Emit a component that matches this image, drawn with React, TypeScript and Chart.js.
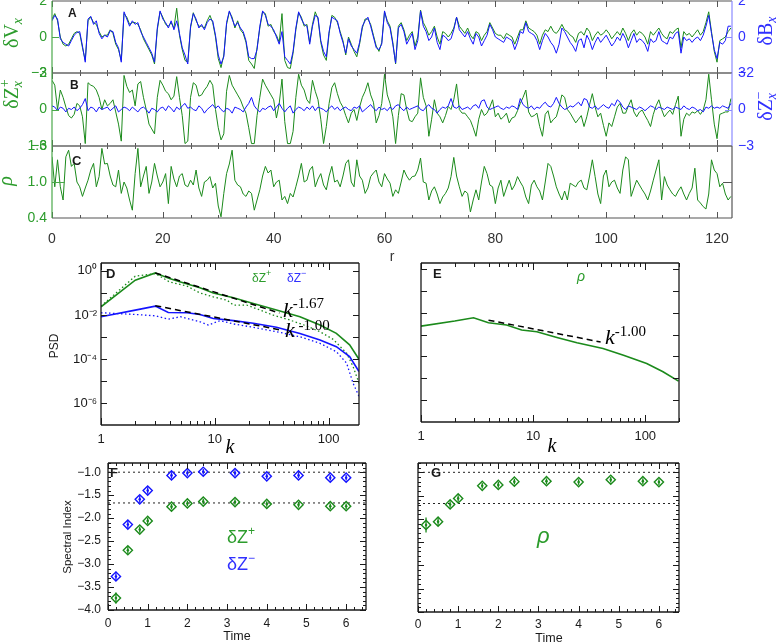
import React, { useEffect, useRef } from 'react';
import { Chart, registerables } from 'chart.js';

Chart.register(...registerables);

const PAGE_W = 778;
const PAGE_H = 642;
const SANS = '"Liberation Sans", Arial, Helvetica, sans-serif';
const SERIF = '"Liberation Serif", "Times New Roman", serif';

const GREEN = '#1b8a1b';
const GREEN_TXT = '#2c9c2c';
const GREEN_AXIS = '#4aa84a';
const BLUE = '#1414ff';
const BLUE_TXT = '#3030ff';
const BLUE_AXIS = '#8a8aff';
const INK = '#1a1a1a';

// ---------------- Panels A–C : profiles along r (step 0.5) ----------------
const R_STEP = 0.5;
const R_MAX = 122.7;
const xTicksTop = [0, 20, 40, 60, 80, 100, 120];

// Panel A, green: delta V_x
const dVx = [
  1.0, 1.3, 0.9, 0.0, -0.4, -0.5, -0.4, -0.1, 0.2, 0.3,
  0.2, -0.6, -1.3, 0.9, 1.1, 0.8, 0.7, 0.3, 0.0, 0.1,
  0.1, 0.4, 0.2, -0.4, -0.7, -1.3, 1.3, 1.1, 0.7, 0.8,
  0.8, 0.7, 0.4, -0.1, -0.4, -0.7, -1.0, -1.5, 0.4, 1.4,
  1.1, 0.7, 0.6, 0.8, 0.5, 1.6, 0.1, -0.7, -1.3, -1.4,
  0.5, 1.35, 0.9, 0.6, 0.6, 0.5, 0.9, 1.2, 0.8, 0.0,
  -1.2, -1.7, -1.0, 0.7, 1.4, 1.1, 0.5, 0.9, 0.4, 0.2,
  -0.3, -1.3, -1.5, -1.75, -0.6, 0.5, 1.4, 1.3, 0.6, 0.7,
  0.3, 0.1, -0.3, 1.3, -1.3, -1.7, -1.75, -0.9, 0.4, 1.35,
  1.1, 0.6, 0.7, -0.3, 0.7, 1.4, 1.0, -0.3, -1.0, -1.3,
  0.2, 1.2, 1.1, 0.8, 0.3, -0.2, -1.0, 0.0, -0.4, -0.8,
  -1.1, -0.4, 0.5, 1.0, 1.0, 0.7, 0.1, -0.5, -0.8, -0.3,
  1.4, 0.9, 0.6, -0.3, -1.5, 0.6, 0.8, 0.4, -0.2, 0.1,
  0.3, -0.5, 0.0, 1.5, 0.8, 0.5, 0.1, 0.3, 0.6, 0.0,
  -0.4, 0.3, 0.2, 0.0, 0.2, 0.5, 1.1, 0.6, 0.4, 0.2,
  0.5, 0.1, -0.1, 0.3, 0.2, -0.2, 0.1, 0.3, 0.8, 0.5,
  0.2, 0.1, 0.1, -0.1, 0.2, 0.1, 0.0, -0.4, 0.0, 0.4,
  0.4, 0.9, 0.5, 0.4, 0.3, 0.1, -0.4, 0.1, 0.4, 0.3,
  0.6, 0.3, 0.2, 0.4, 0.7, 0.4, 0.3, 0.1, 0.0, -0.3,
  0.2, 0.3, 0.1, 0.5, 0.3, -0.2, 0.1, 0.3, 0.1, 0.2,
  0.4, 0.2, -0.1, 0.1, 0.3, 0.1, 0.5, 0.2, -0.2, 0.2,
  0.4, 0.1, 0.3, 0.2, 0.0, -0.4, 0.3, 0.1, 0.3, 0.5,
  0.2, 0.0, -0.1, 0.3, 0.2, 0.4, 0.5, -0.6, 0.3, 0.1,
  0.2, 0.0, 0.2, 0.4, 0.1, 0.3, 0.8, 1.4, 0.3, -0.8,
  -1.4, -0.2, -0.1, 0.0, 0.3, 0.5,
];

// Panel A, blue: delta B_x
const dBx = [
  0.9, 1.2, 1.0, -0.1, -0.3, -0.4, -0.5, -0.2, 0.1, 0.25,
  0.3, -0.5, -1.4, 1.0, 1.15, 0.7, 0.9, 0.2, -0.1, 0.1,
  0.0, 0.35, 0.3, -0.3, -0.6, -1.4, 1.4, 1.0, 0.6, 0.9,
  0.7, 0.8, 0.3, 0.0, -0.3, -0.6, -0.9, -1.4, 0.5, 1.45,
  1.0, 0.8, 0.5, 0.9, 0.4, 0.9, 0.2, -0.6, -1.0, -1.5,
  0.6, 1.3, 1.0, 0.5, 0.7, 0.4, 0.8, 1.0, 0.9, 0.1,
  -1.0, -1.5, -1.1, 0.8, 1.45, 1.0, 0.6, 0.8, 0.5, 0.3,
  -0.2, -1.1, -1.2, -1.2, -0.7, 0.6, 1.45, 1.2, 0.7, 0.6,
  0.4, 0.0, -0.4, 0.3, -1.1, -1.3, -1.5, -0.8, 0.5, 1.4,
  1.0, 0.7, 0.6, -0.4, 0.6, 1.2, 1.1, -0.2, -0.8, -1.1,
  0.3, 1.1, 1.0, 0.9, 0.2, -0.3, -0.9, -0.1, -0.5, -0.7,
  -0.9, -0.3, 0.6, 0.9, 1.1, 0.6, 0.0, -0.6, -0.7, -0.4,
  1.45, 0.8, 0.5, -0.4, -1.45, 0.5, 0.7, 0.3, -0.4, -0.1,
  0.2, -0.7, -0.2, 1.45, 0.6, 0.3, -0.2, 0.0, 0.5, -0.3,
  -0.7, 0.1, 0.0, -0.2, -0.1, 0.4, 1.1, 0.4, 0.2, 0.0,
  0.3, -0.1, -0.4, 0.2, 0.0, -0.5, -0.2, 0.1, 0.7, 0.4,
  0.0, -0.1, -0.2, -0.3, 0.0, -0.1, -0.2, -0.7, -0.3, 0.3,
  0.2, 0.8, 0.3, 0.2, 0.1, -0.2, -0.7, -0.2, 0.2, 0.0,
  -0.3, -0.5, -0.9, -0.4, 0.5, 0.3, 0.0, -0.3, -0.5, -0.8,
  -0.2, -0.1, -0.6, 0.1, -0.2, -0.7, -0.3, 0.0, -0.3, -0.1,
  0.1, -0.2, -0.5, -0.3, 0.0, -0.2, 0.2, -0.1, -0.6, -0.2,
  0.2, -0.3, -0.1, -0.2, -0.4, -0.8, -0.1, -0.3, -0.2, 0.3,
  -0.2, -0.3, -0.4, 0.0, -0.1, 0.2, 0.3, -0.9, 0.0, -0.2,
  -0.1, -0.3, -0.1, 0.0, -0.2, 0.1, 0.6, 1.2, 0.2, -0.7,
  -1.2, -0.3, -0.4, -0.2, 0.6, 0.6,
];

// Panel B, green: delta Z_x^+
const dZp = [
  2.4, 2.0, 0.0, 1.6, 1.0, 0.2, -0.5, -0.7, -0.4, 0.5,
  0.3, -0.6, -2.8, 2.2, 2.0, 1.9, 1.6, 1.0, 0.0, 0.8,
  0.3, 0.5, 0.8, -0.2, -1.2, -2.6, 2.8, 1.9, 1.4, 1.6,
  0.3, 2.1, 2.3, 1.0, 0.0, -1.2, -1.6, -2.0, 1.0, 2.4,
  2.0, 1.5, 1.3, 0.8, 1.1, 2.7, 1.0, -0.5, -2.8, -2.6,
  1.0, 2.2, 2.0, 1.1, 1.2, 1.6, 1.9, 2.4, 2.0, 0.0,
  -1.5, -2.5, -2.0, 1.5, 2.8, 2.0, 1.6, 1.2, 0.8, 0.2,
  -0.3, -1.5, -2.8, -2.8, -0.5, 1.0, 2.5, 2.0, 1.6, 1.2,
  0.8, -0.7, 0.5, 2.5, -1.0, -2.8, -2.8, -1.8, 1.0, 2.9,
  2.0, 1.6, 0.8, 0.5, 2.4, 1.5, 0.8, -0.8, -2.8, -1.4,
  0.5, 1.8, 2.2, 1.3, 0.6, 0.2, -0.5, -1.1, -0.3, 0.0,
  -0.9, 0.2, 1.0, 1.5, 2.2, 1.2, 0.6, -1.1, -0.5, 0.5,
  2.9, 1.2, 0.5, -0.6, -2.8, -0.5, 1.3, 1.2, 0.0, -0.9,
  -1.0, -0.6, -0.3, 2.6, 1.0, 0.3, -2.2, -0.8, 0.8, -0.3,
  -0.6, -1.1, -0.5, 0.25, 0.0, 0.8, 2.1, 0.0, -0.3, -0.3,
  -0.6, -0.9, -1.5, -2.2, -0.8, 0.0, -0.5, -0.3, 0.2, 0.8,
  -0.6, -0.3, -0.8, -0.6, -0.3, -1.1, -0.7, -0.6, -0.1, 0.5,
  1.0, 1.6, -0.2, -0.6, -0.5, -0.3, -1.4, -2.2, -0.4, -0.1,
  -1.1, -0.8, -0.6, 0.2, 1.2, 1.0, 0.0, -0.3, -0.7, -1.1,
  -0.8, -0.5, -1.4, -0.6, 0.4, 1.3, 0.2, -0.6, -0.3, -1.3,
  -2.2, -1.1, -1.4, -0.6, 0.2, 0.5, -0.3, -0.3, 0.3, 0.8,
  -0.2, -0.6, -0.2, -0.05, -0.5, -0.9, -1.4, -0.4, 0.3, 0.8,
  0.0, -0.6, -0.3, -0.05, -0.4, 0.4, 1.1, -2.2, -0.8, -0.3,
  -0.5, -0.2, -0.3, -0.1, -0.4, -0.05, 0.8, 2.9, 0.8, -1.2,
  -2.4, -0.4, -0.3, -0.2, -0.2, 0.9,
];

// Panel B, blue: delta Z_x^-
const dZm = [
  0.3, 0.2, -0.1, 0.2, 0.1, -0.2, 0.1, 0.0, 0.2, -0.1,
  0.1, 0.4, 0.9, -0.1, 0.2, 0.1, -0.2, 0.2, 0.0, 0.1,
  0.2, -0.1, 0.1, 0.3, -0.2, 0.0, 0.2, 0.1, -0.1, 0.2,
  0.0, -0.2, 0.1, 0.2, 0.0, -0.3, 0.1, 0.0, -0.2, 0.1,
  0.2, -0.1, 0.3, 0.1, -0.2, 0.2, 0.0, 0.3, 0.5, 0.1,
  0.2, 0.0, -0.1, 0.3, 0.1, -0.3, 0.0, 0.2, 0.4, 0.1,
  0.3, 0.0, -0.2, 0.1, 0.0, -0.3, 0.2, 0.1, 0.0, -0.2,
  0.2, 0.5, 1.0, 0.3, 0.0, -0.2, 0.1, 0.0, 0.2, 0.3,
  -0.1, 0.2, 0.5, 0.1, -0.2, 0.1, 0.3, -0.3, 0.0, 0.2,
  0.1, -0.1, 0.2, 0.0, 0.3, -0.1, 0.2, 0.1, 0.0, -0.2,
  0.1, 0.3, 0.0, 0.2, -0.1, 0.1, 0.2, 0.0, -0.1, 0.2,
  0.1, 0.3, -0.2, 0.0, 0.2, 0.4, 0.1, -0.1, 0.2, 0.0,
  0.1, -0.1, 0.2, 0.0, 0.3, 0.4, 0.1, -0.1, 0.2, 0.0,
  0.1, 0.2, 0.3, 0.0, -0.1, 0.2, 0.4, 0.1, 0.0, -0.3,
  0.0, 0.2, 0.1, 0.3, 0.9, 0.2, 0.1, 0.3, 0.0, 0.1,
  0.2, 0.0, 0.3, 0.4, 0.1, 0.7, 0.8, 0.2, 0.0, 0.1,
  0.2, 0.3, 0.1, 0.0, 0.2, 0.1, 0.3, 0.2, 0.0, 0.9,
  0.4, 0.2, 0.1, 0.3, 0.0, 0.2, 0.1, 0.4, 0.6, 0.3,
  0.2, 0.5, 1.0, 0.5, 0.2, 0.0, 0.1, 0.3, 0.2, 0.4,
  0.6, 0.3, 0.9, 0.8, 0.2, 0.1, 0.3, 0.0, 0.2, 0.4,
  0.2, 0.1, 0.5, 0.3, 0.8, 0.6, 0.2, 0.0, 0.3, 0.2,
  0.1, 0.0, 0.2, 0.1, -0.1, 0.1, 0.3, 0.2, 0.0, 0.2,
  0.1, 0.0, 0.2, 0.1, 0.0, 0.2, 0.1, 0.0, 0.3, 0.1,
  0.0, 0.2, 0.1, -0.1, 0.0, -0.2, 0.2, 0.1, 0.3, 0.1,
  0.2, 0.1, 0.3, 0.2, 0.1, 0.5,
];

// Panel C, green: rho
const rho = [
  1.42, 0.92, 1.37, 0.92, 0.7, 1.42, 1.53, 1.26, 1.31, 1.0,
  0.92, 0.76, 0.9, 1.03, 1.2, 1.31, 0.92, 1.09, 1.56, 1.3,
  1.31, 1.1, 0.95, 0.92, 1.2, 0.81, 1.0, 0.9, 0.7, 0.53,
  1.14, 1.56, 0.92, 1.1, 1.26, 0.81, 1.0, 1.31, 1.1, 0.92,
  1.0, 1.14, 0.64, 1.26, 1.05, 0.92, 1.1, 1.14, 0.95, 0.92,
  1.03, 0.95, 1.2, 0.9, 0.76, 1.0, 1.03, 1.09, 0.9, 0.98,
  0.6, 0.42, 0.81, 1.14, 1.3, 1.53, 1.03, 0.95, 0.92, 0.8,
  0.76, 0.85, 0.81, 0.53, 0.7, 0.87, 1.1, 1.26, 1.15, 1.2,
  0.92, 1.0, 1.03, 0.7, 0.76, 0.64, 0.81, 0.75, 0.92, 1.1,
  1.31, 1.0, 1.03, 1.2, 1.26, 0.92, 1.05, 1.14, 0.95, 0.87,
  1.1, 1.26, 1.0, 1.03, 0.92, 1.1, 1.31, 1.37, 1.0, 0.92,
  1.37, 1.1, 1.03, 0.81, 0.9, 1.09, 1.15, 1.2, 1.0, 0.92,
  1.14, 1.05, 0.98, 0.76, 0.87, 0.81, 1.0, 1.2, 1.1, 1.03,
  1.09, 1.1, 1.2, 1.4, 1.0, 0.98, 0.7, 0.85, 0.92, 0.8,
  0.64, 0.75, 0.81, 0.9, 1.09, 1.41, 1.1, 0.92, 0.76, 0.85,
  0.81, 0.5, 0.7, 0.87, 0.7, 1.0, 1.26, 1.14, 0.95, 0.92,
  0.64, 0.9, 1.03, 0.76, 0.9, 1.03, 0.87, 0.95, 1.09, 1.0,
  0.92, 0.75, 0.64, 0.95, 1.03, 0.92, 0.85, 0.7, 1.0, 1.31,
  1.26, 1.1, 0.92, 0.8, 0.7, 0.85, 0.7, 0.98, 0.95, 0.92,
  1.0, 1.03, 0.9, 0.87, 1.1, 1.37, 1.09, 0.8, 0.64, 1.1,
  1.2, 0.92, 1.0, 1.03, 0.9, 0.81, 1.2, 1.42, 1.37, 0.76,
  0.9, 1.03, 0.95, 0.87, 0.8, 0.7, 0.85, 1.03, 1.2, 1.37,
  0.7, 1.09, 0.95, 0.87, 0.8, 0.76, 0.85, 0.92, 0.8, 0.7,
  0.81, 0.9, 1.23, 0.7, 0.65, 0.59, 0.55, 0.8, 1.37, 1.2,
  1.14, 0.92, 0.98, 0.8, 0.7, 0.76,
];

// ---------------- Panel D : PSD of delta Z+ / delta Z- ----------------
const kZpSolid = [1, 2, 3, 4, 5, 7.4, 9.7, 14.6, 21.8, 34.8, 56, 84, 117, 153, 185];
const psdZpSolid = [2.34e-2, 0.38, 0.813, 0.447, 0.316, 0.17, 0.1, 6.03e-2, 3.31e-2, 1.66e-2, 8.32e-3, 3.47e-3, 1.45e-3, 4.37e-4, 9.77e-5];
const kZpDot = [1, 2, 3, 4, 5.7, 7.4, 9.7, 12.8, 14.6, 19.1, 25, 32.7, 45.6, 64, 84, 110, 144, 164, 185];
const psdZpDot = [2.51e-2, 0.575, 0.759, 0.316, 0.204, 0.1, 6.61e-2, 4.68e-2, 2.82e-2, 2.82e-2, 1.66e-2, 9.77e-3, 5.89e-3, 3.16e-3, 1.74e-3, 7.76e-4, 1.82e-4, 4.57e-5, 7.9e-6];
const kZmSolid = [1, 2, 3, 3.9, 5.7, 7.4, 9.7, 14.6, 21.8, 34.8, 56, 84, 117, 153, 185];
const psdZmSolid = [8.32e-3, 1.66e-2, 2.51e-2, 1.29e-2, 1.26e-2, 1.05e-2, 6.92e-3, 5.5e-3, 4.17e-3, 2.75e-3, 1.45e-3, 7.24e-4, 3.63e-4, 1.29e-4, 2.69e-5];
const kZmDot = [1, 2, 3, 3.9, 5, 7.4, 8.8, 11.1, 14.6, 21.8, 34.8, 56, 84, 117, 144, 164, 185];
const psdZmDot = [1.26e-2, 1.05e-2, 9.12e-3, 6.46e-3, 8.32e-3, 4.9e-3, 3.47e-3, 5.5e-3, 3.89e-3, 2.75e-3, 1.74e-3, 1.02e-3, 5.13e-4, 2.14e-4, 6.46e-5, 7.94e-6, 2.0e-6];
const fitZpK = [3, 37];
const fitZpPsd = [0.81, 0.0122];
const fitZmK = [3, 38.6];
const fitZmPsd = [0.0263, 2.04e-3];

// ---------------- Panel E : PSD of rho ----------------
const kRho = [1, 2, 2.94, 4, 5.8, 7.9, 10.8, 16.3, 24.6, 42, 64, 103, 144, 198];
const psdRho = [2.45e-3, 4.17e-3, 5.89e-3, 3.47e-3, 2.75e-3, 1.62e-3, 1.35e-3, 7.41e-4, 4.27e-4, 2.34e-4, 1.15e-4, 4.79e-5, 2.0e-5, 7.41e-6];
const fitRhoK = [4, 40];
const fitRhoPsd = [4.6e-3, 4.6e-4];

const psdTicksY = [1, 1e-2, 1e-4, 1e-6];
const psdTicksX = [1, 10, 100];

// ---------------- Panels F, G : spectral index vs time ----------------
const timeT = [0.2, 0.5, 0.8, 1.0, 1.6, 2.0, 2.4, 3.2, 4.0, 4.8, 5.6, 6.0];
const idxZm = [-3.27, -2.14, -1.59, -1.4, -1.07, -1.02, -0.99, -1.02, -1.09, -1.07, -1.12, -1.12];
const errZm = [0.1, 0.08, 0.07, 0.07, 0.07, 0.06, 0.06, 0.06, 0.06, 0.06, 0.06, 0.06];
const idxZp = [-3.74, -2.7, -2.25, -2.06, -1.75, -1.68, -1.64, -1.65, -1.69, -1.71, -1.74, -1.74];
const errZp = [0.12, 0.08, 0.07, 0.07, 0.06, 0.06, 0.06, 0.06, 0.06, 0.06, 0.06, 0.06];
const idxRho = [-2.13, -2.06, -1.69, -1.56, -1.29, -1.27, -1.2, -1.19, -1.21, -1.16, -1.19, -1.21];
const errRho = [0.16, 0.08, 0.07, 0.07, 0.06, 0.06, 0.06, 0.06, 0.06, 0.06, 0.06, 0.06];
const refSlopes = [-1.0, -1.67];
const timeTicks = [0, 1, 2, 3, 4, 5, 6];
const indexTicks = [-4.0, -3.5, -3.0, -2.5, -2.0, -1.5, -1.0];

// ---------------- helpers ----------------
type Area = { l: number; t: number; r: number; b: number };
const AREA_A: Area = { l: 52, t: 1, r: 732, b: 73 };
const AREA_B: Area = { l: 52, t: 73, r: 732, b: 146 };
const AREA_C: Area = { l: 52, t: 146, r: 732, b: 218 };
const AREA_D: Area = { l: 101, t: 263, r: 359, b: 425 };
const AREA_E: Area = { l: 421, t: 263, r: 679, b: 422 };
const AREA_F: Area = { l: 108, t: 463, r: 366, b: 610 };
const AREA_G: Area = { l: 418, t: 463, r: 679, b: 612 };

const range = (a: number, b: number, s: number) => {
  const out: number[] = [];
  for (let v = a; v <= b + 1e-9; v += s) out.push(Math.round(v * 1000) / 1000);
  return out;
};
const series = (vals: number[]) => vals.map((v, i) => ({ x: i * R_STEP, y: v }));
const pts = (xs: number[], ys: number[]) => xs.map((x, i) => ({ x, y: ys[i] }));
const minus = (v: number, digits: number) => (v < 0 ? '\u2212' : '') + Math.abs(v).toFixed(digits);
const SUP: Record<string, string> = { '0': '\u2070', '1': '\u00b9', '2': '\u00b2', '3': '\u00b3', '4': '\u2074', '5': '\u2075', '6': '\u2076', '7': '\u2077', '8': '\u2078', '9': '\u2079', '-': '\u207b' };
const psdLabel = (v: number) => '10' + String(Math.round(Math.log10(v))).split('').map((c) => SUP[c]).join('');

function axis(o: any) {
  const horizontal = o.position === 'bottom' || o.position === 'top';
  return {
    type: o.type || 'linear',
    position: o.position,
    min: o.min,
    max: o.max,
    bounds: 'data',
    display: o.show,
    grid: { display: false, drawTicks: false },
    border: { display: false },
    afterBuildTicks: (s: any) => {
      if (o.tickValues) s.ticks = o.tickValues.map((v: number) => ({ value: v }));
    },
    afterFit: (s: any) => {
      if (!o.show) return;
      if (horizontal) s.height = o.fit;
      else s.width = o.fit;
      s.paddingTop = 0;
      s.paddingBottom = 0;
      s.paddingLeft = 0;
      s.paddingRight = 0;
    },
    ticks: {
      autoSkip: false,
      maxRotation: 0,
      minRotation: 0,
      padding: o.pad ?? 4,
      color: o.color || INK,
      font: { family: o.font || SANS, size: o.size || 12 },
      callback: (v: any) => (o.fmt ? o.fmt(Number(v)) : String(v)),
    },
  };
}

type YTick = { v: number; len: number; left?: string; right?: string };
type FrameOpts = {
  border: { left: string; right: string; top: string; bottom: string };
  lineWidth: number;
  tickColor: string;
  xMajor: number[];
  xMinor: number[];
  xMajorLen: number;
  xMinorLen: number;
  yTicks: YTick[];
};

function framePlugin(f: FrameOpts) {
  return {
    id: 'frame',
    afterDatasetsDraw(chart: any) {
      const { ctx, chartArea: a } = chart;
      const xs = chart.scales.x;
      const ys = chart.scales.y;
      ctx.save();
      ctx.lineWidth = 1;
      ctx.strokeStyle = f.tickColor;
      ctx.beginPath();
      const xt = (vals: number[], len: number) =>
        vals.forEach((v) => {
          const p = Math.round(xs.getPixelForValue(v)) + 0.5;
          ctx.moveTo(p, a.bottom);
          ctx.lineTo(p, a.bottom - len);
          ctx.moveTo(p, a.top);
          ctx.lineTo(p, a.top + len);
        });
      xt(f.xMinor, f.xMinorLen);
      xt(f.xMajor, f.xMajorLen);
      ctx.stroke();
      f.yTicks.forEach((t) => {
        const p = Math.round(ys.getPixelForValue(t.v)) + 0.5;
        if (t.left) {
          ctx.strokeStyle = t.left;
          ctx.beginPath();
          ctx.moveTo(a.left, p);
          ctx.lineTo(a.left + t.len, p);
          ctx.stroke();
        }
        if (t.right) {
          ctx.strokeStyle = t.right;
          ctx.beginPath();
          ctx.moveTo(a.right, p);
          ctx.lineTo(a.right - t.len, p);
          ctx.stroke();
        }
      });
      ctx.lineWidth = f.lineWidth;
      const line = (x1: number, y1: number, x2: number, y2: number, c: string) => {
        ctx.strokeStyle = c;
        ctx.beginPath();
        ctx.moveTo(x1, y1);
        ctx.lineTo(x2, y2);
        ctx.stroke();
      };
      line(a.left, a.top, a.right, a.top, f.border.top);
      line(a.left, a.bottom, a.right, a.bottom, f.border.bottom);
      line(a.left, a.top, a.left, a.bottom, f.border.left);
      line(a.right, a.top, a.right, a.bottom, f.border.right);
      ctx.restore();
    },
  };
}

type Seg = { t: string; font: string; dy?: number; back?: boolean; color?: string };
type TextItem = { x: number; y: number; segs: Seg[]; color: string; rot?: number; align?: 'left' | 'center' | 'right' };

function drawItem(ctx: CanvasRenderingContext2D, it: TextItem) {
  ctx.save();
  ctx.translate(it.x, it.y);
  if (it.rot) ctx.rotate(it.rot);
  ctx.textBaseline = 'alphabetic';
  ctx.textAlign = 'left';
  let pos = 0;
  let prevStart = 0;
  let maxEnd = 0;
  const placed: { s: Seg; x: number }[] = [];
  for (const s of it.segs) {
    ctx.font = s.font;
    const w = ctx.measureText(s.t).width;
    const start = s.back ? prevStart : pos;
    placed.push({ s, x: start });
    if (!s.back) {
      prevStart = start;
      pos = start + w;
    } else {
      pos = Math.max(pos, start + w);
    }
    maxEnd = Math.max(maxEnd, start + w);
  }
  const off = it.align === 'center' ? -maxEnd / 2 : it.align === 'right' ? -maxEnd : 0;
  for (const p of placed) {
    ctx.font = p.s.font;
    ctx.fillStyle = p.s.color || it.color;
    ctx.fillText(p.s.t, p.x + off, p.s.dy || 0);
  }
  ctx.restore();
}

function textPlugin(items: TextItem[]) {
  return {
    id: 'texts',
    afterDraw(chart: any) {
      items.forEach((it) => drawItem(chart.ctx, it));
    },
  };
}

function errPlugin(items: { xs: number[]; ys: number[]; err: number[]; color: string }[]) {
  return {
    id: 'errbars',
    afterDatasetsDraw(chart: any) {
      const { ctx } = chart;
      const xs = chart.scales.x;
      const ys = chart.scales.y;
      ctx.save();
      items.forEach((it) => {
        ctx.strokeStyle = it.color;
        ctx.fillStyle = it.color;
        ctx.lineWidth = 1.3;
        it.xs.forEach((x, i) => {
          const px = xs.getPixelForValue(x);
          ctx.beginPath();
          ctx.moveTo(px, ys.getPixelForValue(it.ys[i] - it.err[i]));
          ctx.lineTo(px, ys.getPixelForValue(it.ys[i] + it.err[i]));
          ctx.stroke();
          ctx.beginPath();
          ctx.arc(px, ys.getPixelForValue(it.ys[i]), 1.3, 0, Math.PI * 2);
          ctx.fill();
        });
      });
      ctx.restore();
    },
  };
}

function makeConfig(area: Area, leftW: number, rightW: number, bottomH: number, datasets: any[], scales: any, plugins: any[]) {
  return {
    type: 'line',
    data: { datasets },
    options: {
      responsive: false,
      animation: false,
      events: [],
      layout: {
        padding: { left: area.l - leftW, top: area.t, right: PAGE_W - area.r - rightW, bottom: PAGE_H - area.b - bottomH },
      },
      plugins: { legend: { display: false }, tooltip: { enabled: false } },
      elements: { point: { radius: 0 }, line: { tension: 0 } },
      scales,
    },
    plugins,
  } as any;
}

const lineDs = (data: any[], color: string, width = 1, dash: number[] = [], yAxisID = 'y') => ({
  data,
  borderColor: color,
  backgroundColor: color,
  borderWidth: width,
  borderDash: dash,
  pointRadius: 0,
  fill: false,
  yAxisID,
});

const markerDs = (xs: number[], ys: number[], color: string) => ({
  data: pts(xs, ys),
  showLine: false,
  pointStyle: 'rectRot',
  pointRadius: 4.6,
  pointBorderWidth: 1.4,
  pointBorderColor: color,
  pointBackgroundColor: 'rgba(0,0,0,0)',
  borderColor: color,
});

const fmtInt = (v: number) => minus(v, 0);
const fmt1 = (v: number) => minus(v, 1);
const xTopMinor = range(0, 120, 5);
const fontSerif = (s: number, italic = false) => `${italic ? 'italic ' : ''}${s}px ${SERIF}`;
const fontSans = (s: number, opts = '') => `${opts}${s}px ${SANS}`;
const ROT = -Math.PI / 2;

function buildConfigs() {
  const topFrame = (top: string, right: string, yv: number, lenL: number, lenR: number, rightTick: string) =>
    framePlugin({
      border: { left: GREEN_AXIS, right, top, bottom: '#666' },
      lineWidth: 1.2,
      tickColor: '#555',
      xMajor: xTicksTop,
      xMinor: xTopMinor,
      xMajorLen: 6,
      xMinorLen: 3,
      yTicks: [{ v: yv, len: lenL, left: GREEN_AXIS }, { v: yv, len: lenR, right: rightTick }],
    });

  const hiddenX = axis({ position: 'bottom', min: 0, max: R_MAX, show: false });

  const cfgA = makeConfig(
    AREA_A, 52, 46, 0,
    [lineDs(series(dBx), BLUE, 1, [], 'y2'), lineDs(series(dVx), GREEN, 1)],
    {
      x: hiddenX,
      y: axis({ position: 'left', min: -2, max: 2, tickValues: [-2, 0, 2], fmt: fmtInt, color: GREEN_TXT, size: 14, pad: 5, show: true, fit: 52 }),
      y2: axis({ position: 'right', min: -2, max: 2, tickValues: [-2, 0, 2], fmt: fmtInt, color: BLUE_TXT, size: 14, pad: 6, show: true, fit: 46 }),
    },
    [
      topFrame('#555', BLUE_AXIS, 0, 7, 7, BLUE_AXIS),
      textPlugin([
        { x: 68, y: 17, segs: [{ t: 'A', font: fontSans(12, 'bold ') }], color: INK },
        { x: 18, y: 33, rot: ROT, align: 'center', color: GREEN_TXT, segs: [{ t: '\u03b4V', font: fontSerif(20) }, { t: 'x', font: fontSerif(14, true), dy: 4 }] },
        { x: 772, y: 31, rot: ROT, align: 'center', color: BLUE_TXT, segs: [{ t: '\u03b4B', font: fontSerif(20) }, { t: 'x', font: fontSerif(14, true), dy: 4 }] },
      ]),
    ],
  );

  const cfgB = makeConfig(
    AREA_B, 52, 46, 0,
    [lineDs(series(dZm), BLUE, 1, [], 'y2'), lineDs(series(dZp), GREEN, 1)],
    {
      x: hiddenX,
      y: axis({ position: 'left', min: -3, max: 3, tickValues: [-3, 0, 3], fmt: fmtInt, color: GREEN_TXT, size: 14, pad: 5, show: true, fit: 52 }),
      y2: axis({ position: 'right', min: -3, max: 3, tickValues: [-3, 0, 3], fmt: fmtInt, color: BLUE_TXT, size: 14, pad: 6, show: true, fit: 46 }),
    },
    [
      topFrame('#666', BLUE_AXIS, 0, 7, 7, BLUE_AXIS),
      textPlugin([
        { x: 70, y: 89, segs: [{ t: 'B', font: fontSans(12, 'bold ') }], color: INK },
        { x: 18, y: 94, rot: ROT, align: 'center', color: GREEN_TXT, segs: [{ t: '\u03b4Z', font: fontSerif(20) }, { t: 'x', font: fontSerif(14, true), dy: 4 }, { t: '+', font: fontSerif(14), dy: -9, back: true }] },
        { x: 772, y: 106, rot: ROT, align: 'center', color: BLUE_TXT, segs: [{ t: '\u03b4Z', font: fontSerif(20) }, { t: 'x', font: fontSerif(14, true), dy: 4 }, { t: '\u2212', font: fontSerif(14), dy: -9, back: true }] },
      ]),
    ],
  );

  const cfgC = makeConfig(
    AREA_C, 52, 0, 40,
    [lineDs(series(rho), GREEN, 1)],
    {
      x: axis({ position: 'bottom', min: 0, max: R_MAX, tickValues: xTicksTop, fmt: (v: number) => String(v), color: '#333', size: 14, pad: 13, show: true, fit: 40 }),
      y: axis({ position: 'left', min: 0.4, max: 1.6, tickValues: [0.4, 1.0, 1.6], fmt: fmt1, color: GREEN_TXT, size: 14, pad: 5, show: true, fit: 52 }),
    },
    [
      framePlugin({
        border: { left: GREEN_AXIS, right: '#555', top: '#666', bottom: '#555' },
        lineWidth: 1.2,
        tickColor: '#555',
        xMajor: xTicksTop,
        xMinor: xTopMinor,
        xMajorLen: 6,
        xMinorLen: 3,
        yTicks: [{ v: 1.0, len: 13, left: GREEN_AXIS }, { v: 1.0, len: 9, right: '#555' }],
      }),
      textPlugin([
        { x: 72, y: 165, segs: [{ t: 'C', font: fontSans(13, 'bold ') }], color: INK },
        { x: 12, y: 181, rot: ROT, align: 'center', color: GREEN_TXT, segs: [{ t: '\u03c1', font: fontSerif(20, true) }] },
        { x: 392, y: 261, align: 'center', color: '#333', segs: [{ t: 'r', font: fontSans(14) }] },
      ]),
    ],
  );

  const logMinorX = [2, 3, 4, 5, 6, 7, 8, 9, 20, 30, 40, 50, 60, 70, 80, 90];
  const decades = [1e-6, 1e-5, 1e-4, 1e-3, 1e-2, 1e-1, 1];
  const boxFrame = (xMajor: number[], xMinor: number[], yTicks: YTick[], xMajorLen = 7, xMinorLen = 4) =>
    framePlugin({
      border: { left: INK, right: INK, top: INK, bottom: INK },
      lineWidth: 1.3,
      tickColor: INK,
      xMajor,
      xMinor,
      xMajorLen,
      xMinorLen,
      yTicks,
    });
  const decadeTicks = decades.map((v) => ({ v, len: 6, left: INK, right: INK }));

  const cfgD = makeConfig(
    AREA_D, 101, 0, 40,
    [
      lineDs(pts(fitZpK, fitZpPsd), '#000', 1.5, [6, 4]),
      lineDs(pts(fitZmK, fitZmPsd), '#000', 1.5, [6, 4]),
      lineDs(pts(kZpSolid, psdZpSolid), GREEN, 1.6),
      lineDs(pts(kZmSolid, psdZmSolid), BLUE, 1.6),
      lineDs(pts(kZpDot, psdZpDot), GREEN, 1.3, [1.5, 2.5]),
      lineDs(pts(kZmDot, psdZmDot), BLUE, 1.3, [1.5, 2.5]),
    ],
    {
      x: axis({ type: 'logarithmic', position: 'bottom', min: 1, max: 185, tickValues: psdTicksX, fmt: (v: number) => String(v), size: 13, pad: 7, show: true, fit: 40 }),
      y: axis({ type: 'logarithmic', position: 'left', min: 1e-7, max: 2.29, tickValues: psdTicksY, fmt: psdLabel, size: 13, pad: 4, show: true, fit: 101 }),
    },
    [
      boxFrame(psdTicksX, logMinorX, decadeTicks),
      textPlugin([
        { x: 106, y: 278, segs: [{ t: 'D', font: fontSans(13, 'bold ') }], color: INK },
        { x: 252, y: 282, color: GREEN_TXT, segs: [{ t: '\u03b4Z', font: fontSans(12) }, { t: '+', font: fontSans(9), dy: -6 }] },
        { x: 287, y: 282, color: BLUE_TXT, segs: [{ t: '\u03b4Z', font: fontSans(12) }, { t: '\u2212', font: fontSans(9), dy: -6 }] },
        { x: 58, y: 346, rot: ROT, align: 'center', color: INK, segs: [{ t: 'PSD', font: fontSans(12) }] },
        { x: 283, y: 317, color: '#000', segs: [{ t: 'k', font: fontSerif(22, true) }, { t: '-1.67', font: fontSerif(15), dy: -9 }] },
        { x: 285, y: 337, color: '#000', segs: [{ t: 'k', font: fontSerif(22, true) }, { t: ' -1.00', font: fontSerif(15), dy: -7 }] },
        { x: 230, y: 453, align: 'center', color: '#000', segs: [{ t: 'k', font: fontSerif(20, true) }] },
      ]),
    ],
  );

  const cfgE = makeConfig(
    AREA_E, 0, 0, 40,
    [lineDs(pts(fitRhoK, fitRhoPsd), '#000', 1.5, [6, 4]), lineDs(pts(kRho, psdRho), GREEN, 1.6)],
    {
      x: axis({ type: 'logarithmic', position: 'bottom', min: 1, max: 200, tickValues: psdTicksX, fmt: (v: number) => String(v), size: 13, pad: 7, show: true, fit: 40 }),
      y: axis({ type: 'logarithmic', position: 'left', min: 1e-7, max: 1.9, show: false }),
    },
    [
      boxFrame(psdTicksX, [...logMinorX, 200], decadeTicks),
      textPlugin([
        { x: 433, y: 278, segs: [{ t: 'E', font: fontSans(13, 'bold ') }], color: INK },
        { x: 577, y: 281, color: GREEN_TXT, segs: [{ t: '\u03c1', font: fontSans(14, 'italic ') }] },
        { x: 605, y: 344, color: '#000', segs: [{ t: 'k', font: fontSerif(22, true) }, { t: '-1.00', font: fontSerif(15), dy: -8 }] },
        { x: 552, y: 452, align: 'center', color: '#000', segs: [{ t: 'k', font: fontSerif(20, true) }] },
      ]),
    ],
  );

  const idxFrameTicks: YTick[] = [
    ...range(-4.0, -0.8, 0.1).map((v) => ({ v, len: 3, left: INK, right: INK })),
    ...indexTicks.map((v) => ({ v, len: 6, left: INK, right: INK })),
  ];
  const hLines = refSlopes.map((s) => lineDs(pts([0, 6.5], [s, s]), '#222', 1, [2, 3]));

  const cfgF = makeConfig(
    AREA_F, 108, 0, 40,
    [markerDs(timeT, idxZm, BLUE), markerDs(timeT, idxZp, GREEN), ...hLines],
    {
      x: axis({ position: 'bottom', min: 0, max: 6.5, tickValues: timeTicks, fmt: (v: number) => String(v), size: 12, pad: 6, show: true, fit: 40 }),
      y: axis({ position: 'left', min: -4.0, max: -0.8, tickValues: indexTicks, fmt: fmt1, size: 12, pad: 7, show: true, fit: 108 }),
    },
    [
      boxFrame(timeTicks, range(0, 6.4, 0.2), idxFrameTicks, 6, 3),
      errPlugin([
        { xs: timeT, ys: idxZm, err: errZm, color: BLUE },
        { xs: timeT, ys: idxZp, err: errZp, color: GREEN },
      ]),
      textPlugin([
        { x: 110, y: 477, segs: [{ t: 'F', font: fontSans(13, 'bold ') }], color: INK },
        { x: 71, y: 537, rot: ROT, align: 'center', color: INK, segs: [{ t: 'Spectral Index', font: fontSans(11.5) }] },
        { x: 227, y: 543, color: GREEN_TXT, segs: [{ t: '\u03b4Z', font: fontSans(18) }, { t: '+', font: fontSans(12), dy: -8 }] },
        { x: 227, y: 570, color: BLUE_TXT, segs: [{ t: '\u03b4Z', font: fontSans(18) }, { t: '\u2212', font: fontSans(12), dy: -8 }] },
        { x: 237, y: 640, align: 'center', color: INK, segs: [{ t: 'Time', font: fontSans(12.5) }] },
      ]),
    ],
  );

  const cfgG = makeConfig(
    AREA_G, 0, 0, 40,
    [markerDs(timeT, idxRho, GREEN), ...hLines],
    {
      x: axis({ position: 'bottom', min: 0, max: 6.5, tickValues: timeTicks, fmt: (v: number) => String(v), size: 12, pad: 5, show: true, fit: 40 }),
      y: axis({ position: 'left', min: -4.0, max: -0.8, show: false }),
    },
    [
      boxFrame(timeTicks, range(0, 6.4, 0.2), idxFrameTicks, 6, 3),
      errPlugin([{ xs: timeT, ys: idxRho, err: errRho, color: GREEN }]),
      textPlugin([
        { x: 431, y: 477, segs: [{ t: 'G', font: fontSans(13, 'bold ') }], color: INK },
        { x: 537, y: 543, color: GREEN_TXT, segs: [{ t: '\u03c1', font: fontSans(22, 'italic ') }] },
        { x: 549, y: 642, align: 'center', color: INK, segs: [{ t: 'Time', font: fontSans(12.5) }] },
      ]),
    ],
  );

  return [cfgA, cfgB, cfgC, cfgD, cfgE, cfgF, cfgG];
}

export default function App() {
  const canvRefs = useRef<(HTMLCanvasElement | null)[]>([]);

  useEffect(() => {
    const configs = buildConfigs();
    const charts = configs.map((cfg, i) => new Chart(canvRefs.current[i] as HTMLCanvasElement, cfg));
    return () => charts.forEach((c) => c.destroy());
  }, []);

  return (
    <div style={{ position: 'fixed', left: 0, top: 0, width: PAGE_W, height: PAGE_H, background: '#fff', overflow: 'hidden' }}>
      {Array.from({ length: 7 }).map((_, i) => (
        <canvas
          key={i}
          ref={(el) => {
            canvRefs.current[i] = el;
          }}
          width={PAGE_W}
          height={PAGE_H}
          style={{ position: 'absolute', left: 0, top: 0, width: PAGE_W, height: PAGE_H }}
        />
      ))}
    </div>
  );
}
